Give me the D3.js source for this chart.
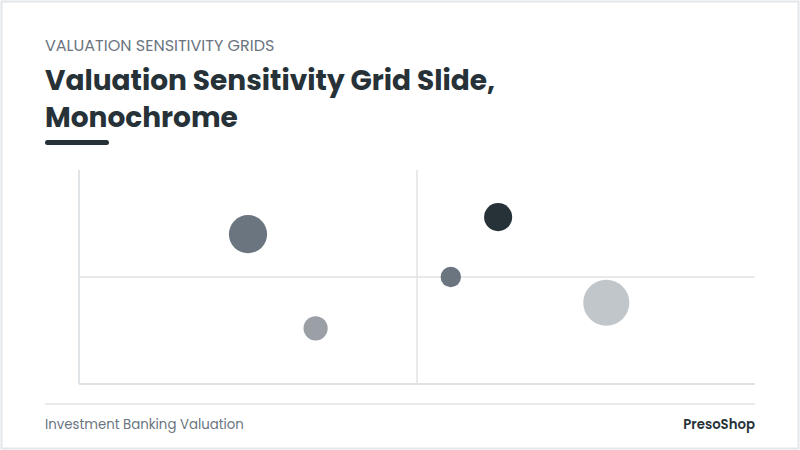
<!DOCTYPE html>
<html>
<head>
<meta charset="utf-8">
<script src="https://cdn.jsdelivr.net/npm/d3@7"></script>
<style>
  body { margin: 0; background: #fff; }
  svg { display: block; font-family: Poppins, "Open Sans", sans-serif; }
</style>
</head>
<body>
<div id="content"></div>
<script>
// bubble data (x, y on 0-100 scale, size value)
var names = ['A', 'B', 'C', 'D', 'E'];
var xValues = [25, 35, 55, 62, 78];
var yValues = [70, 26, 50, 78, 38];
var sizes = [35, 14, 10, 19, 51];
var colors = ['#6b7580', '#9aa0a6', '#6b7580', '#263238', '#c0c6ca'];

var width = 800, height = 450;
var svg = d3.select('#content').append('svg')
  .attr('width', width).attr('height', height);

// frame
svg.append('rect')
  .attr('x', 1.5).attr('y', 1.5)
  .attr('width', width - 3).attr('height', height - 3)
  .attr('fill', '#fff').attr('stroke', '#e3e6e8').attr('stroke-width', 2);

// header
svg.append('text').attr('x', 45).attr('y', 51)
  .attr('fill', '#6b7580').style('font-size', '16px')
  .text('VALUATION SENSITIVITY GRIDS');
svg.append('text').attr('x', 45).attr('y', 90)
  .attr('fill', '#263238').style('font-size', '28px').style('font-weight', 'bold')
  .text('Valuation Sensitivity Grid Slide,');
svg.append('text').attr('x', 45).attr('y', 127)
  .attr('fill', '#263238').style('font-size', '28px').style('font-weight', 'bold')
  .text('Monochrome');
svg.append('rect').attr('x', 45).attr('y', 140).attr('width', 64).attr('height', 5)
  .attr('rx', 2.5).attr('fill', '#263238');

// scales
var x = d3.scaleLinear().domain([0, 100]).range([79, 755]);
var y = d3.scaleLinear().domain([0, 100]).range([384, 170]);
var r = d3.scaleSqrt().domain([0, 60]).range([0, 25]);

var g = svg.append('g');
// quadrant lines
g.append('line').attr('x1', x(50)).attr('x2', x(50)).attr('y1', y(100)).attr('y2', y(0))
  .attr('stroke', '#e0e3e5').attr('stroke-width', 1.5);
g.append('line').attr('x1', x(0)).attr('x2', x(100)).attr('y1', y(50)).attr('y2', y(50))
  .attr('stroke', '#e0e3e5').attr('stroke-width', 1.5);
// axes
g.append('line').attr('x1', x(0)).attr('x2', x(0)).attr('y1', y(100)).attr('y2', y(0))
  .attr('stroke', '#e0e3e5').attr('stroke-width', 2);
g.append('line').attr('x1', x(0)).attr('x2', x(100)).attr('y1', y(0)).attr('y2', y(0))
  .attr('stroke', '#e0e3e5').attr('stroke-width', 2);

// bubbles
g.selectAll('circle').data(names).enter().append('circle')
  .attr('cx', function(d, i) { return x(xValues[i]); })
  .attr('cy', function(d, i) { return y(yValues[i]); })
  .attr('r', function(d, i) { return r(sizes[i]); })
  .attr('fill', function(d, i) { return colors[i]; });

// footer
svg.append('line').attr('x1', 45).attr('x2', 755).attr('y1', 404).attr('y2', 404)
  .attr('stroke', '#e0e3e5').attr('stroke-width', 1.5);
svg.append('text').attr('x', 45).attr('y', 429)
  .attr('fill', '#6b7580').style('font-size', '13.3px')
  .text('Investment Banking Valuation');
svg.append('text').attr('x', 755).attr('y', 429).attr('text-anchor', 'end')
  .attr('fill', '#263238').style('font-size', '13.3px').style('font-weight', '600')
  .text('PresoShop');
</script>
</body>
</html>
